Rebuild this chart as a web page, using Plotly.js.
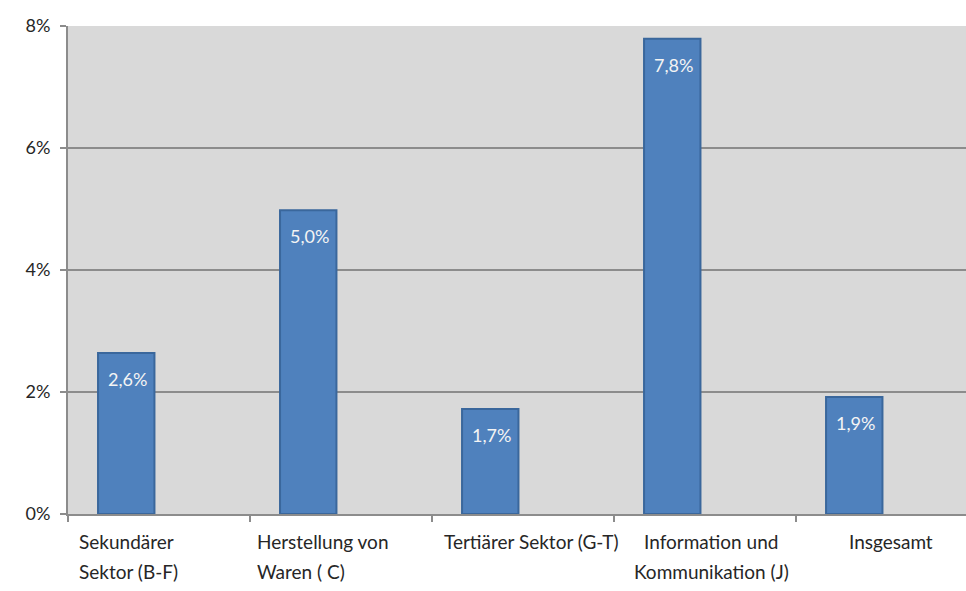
<!DOCTYPE html>
<html>
<head>
<meta charset="utf-8">
<script src="https://cdn.plot.ly/plotly-3.0.1.min.js"></script>
<style>
html,body{margin:0;padding:0;background:#fff;overflow:hidden;}
#chart{width:966px;height:591px;}
</style>
</head>
<body>
<div id="chart"></div>
<script>
// ---- data ----
const categories = ["Sekundärer Sektor (B-F)", "Herstellung von Waren ( C)", "Tertiärer Sektor (G-T)", "Information und Kommunikation (J)", "Insgesamt"];
const tickLabelLines = [["Sekundärer", "Sektor (B-F)"], ["Herstellung von", "Waren ( C)"], ["Tertiärer Sektor (G-T)"], ["Information und", "Kommunikation (J)"], ["Insgesamt"]];
const values = [2.64, 4.98, 1.72, 7.79, 1.92];
const yTicks = [0, 2, 4, 6, 8];

// ---- styling ----
const labelAnchor = ["left", "left", "center", "center", "center"];
const labelShift = [-82, -86, 8, 6, 4];
const FONT = "Lato, 'Open Sans', sans-serif";

const fmt = v => v.toFixed(1).replace('.', ',') + '%';

const trace = {
  type: 'bar',
  x: categories,
  y: values,
  width: 0.31,
  offset: -0.335,
  marker: {color: '#4f81bd', line: {color: '#3a679c', width: 2}},
  hoverinfo: 'none'
};

const annotations = [];
categories.forEach((c, i) => {
  annotations.push({
    x: c, y: values[i], xref: 'x', yref: 'y',
    text: fmt(values[i]), showarrow: false,
    xanchor: 'center', yanchor: 'middle',
    xshift: -32, yshift: -26,
    font: {family: FONT, size: 18, color: '#f4f4f4'}
  });
  tickLabelLines[i].forEach((line, k) => {
    annotations.push({
      x: c, y: 0, xref: 'x', yref: 'paper',
      text: line, showarrow: false,
      xanchor: labelAnchor[i], yanchor: 'middle',
      xshift: labelShift[i], yshift: -27 - 30 * k,
      font: {family: FONT, size: 19, color: '#262626'}
    });
  });
});

const layout = {
  width: 966, height: 591,
  margin: {l: 68, r: 0, t: 26, b: 77},
  paper_bgcolor: '#ffffff',
  plot_bgcolor: '#d9d9d9',
  showlegend: false,
  font: {family: FONT, size: 18, color: '#262626'},
  xaxis: {
    type: 'category',
    range: [-0.5, 4.434],
    showticklabels: false,
    ticks: 'outside', ticklen: 6, tickwidth: 2, tickcolor: '#8c8c8c',
    tickson: 'boundaries',
    showline: true, linecolor: '#8c8c8c', linewidth: 2,
    showgrid: false, zeroline: false, fixedrange: true
  },
  yaxis: {
    range: [0, 8],
    tickvals: yTicks,
    ticktext: yTicks.map(t => t + '%'),
    ticks: 'outside', ticklen: 6, tickwidth: 2, tickcolor: '#8c8c8c',
    showline: true, linecolor: '#8c8c8c', linewidth: 2,
    showgrid: true, gridcolor: '#8c8c8c', gridwidth: 2,
    zeroline: false,
    tickfont: {family: FONT, size: 18, color: '#262626'},
    ticklabelstandoff: 6,
    fixedrange: true
  },
  annotations: annotations
};

Plotly.newPlot('chart', [trace], layout, {staticPlot: true, displayModeBar: false});
</script>
</body>
</html>
